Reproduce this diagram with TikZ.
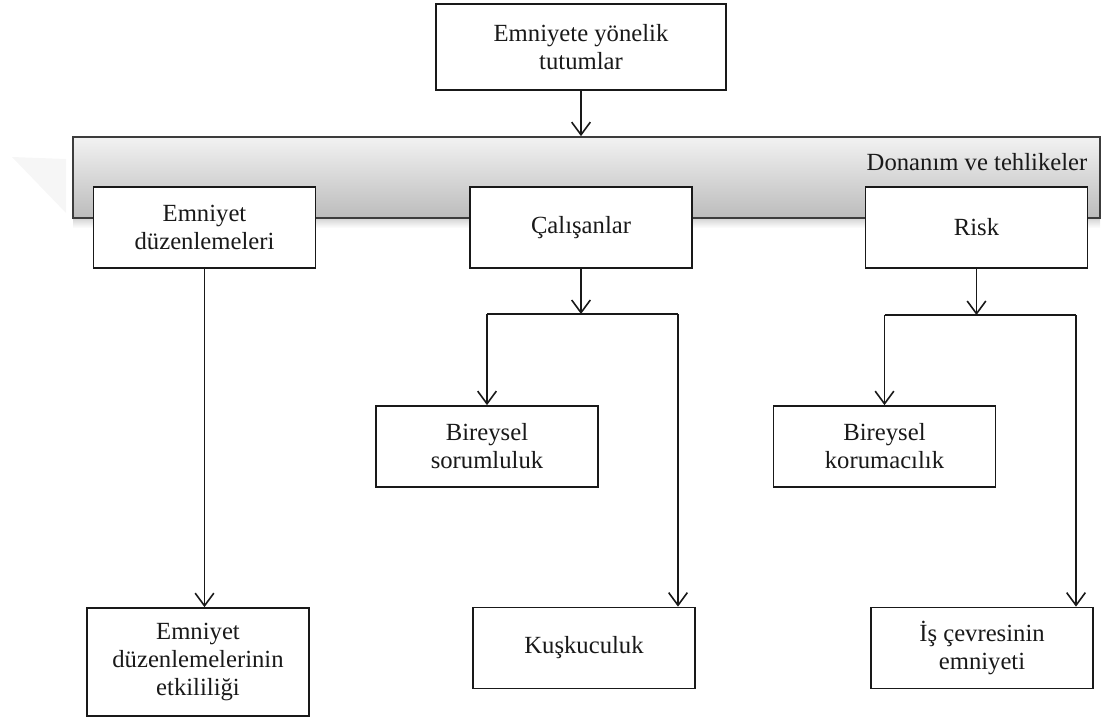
\documentclass[tikz,border=0pt]{standalone}
\usepackage{fontspec}
\setmainfont{Liberation Serif}
\usetikzlibrary{arrows.meta}

\definecolor{bandtop}{RGB}{242,242,242}
\definecolor{bandbot}{RGB}{188,188,188}
\definecolor{ink}{RGB}{25,25,25}

\tikzset{
  txt/.style={font=\fontsize{18.5}{21}\selectfont, align=center, text=ink},
  stepbox/.style={txt, draw=ink, line width=1.3pt, fill=white,
    rectangle, inner sep=0pt, minimum width=166.5pt, minimum height=60.75pt},
  bandbox/.style={draw=ink!85, line width=1.3pt, rectangle, inner sep=0pt,
    top color=bandtop, bottom color=bandbot,
    minimum width=770.25pt, minimum height=60.75pt},
  arr/.style={draw=ink, line width=1.3pt, -{Straight Barb[length=9.5pt,width=14pt,line width=1.2pt]}},
  link/.style={draw=ink, line width=1.3pt}
}

\begin{document}
\begin{tikzpicture}[x=0.75pt,y=-0.75pt]
  \useasboundingbox (0,0) rectangle (1103,719);

  % faint mark at the far left
  \fill[gray!7] (12,157) -- (66,159) -- (66,213) -- cycle;

  % top node
  \node[stepbox, minimum width=217.5pt, minimum height=64.5pt] (top) at (581,47)
    {Emniyete yönelik\\tutumlar};

  % wide shaded band with its soft shadow
  \shade[top color=gray!35, bottom color=white] (73,218) rectangle (1100,228);
  \node[bandbox] (band) at (586.5,177.5) {};
  \node[txt, anchor=east] (bandlabel) at (1092,162) {Donanım ve tehlikeler};

  % first row
  \node[stepbox] (emn)  at (204.5,227.5) {Emniyet\\düzenlemeleri};
  \node[stepbox] (cal)  at (581,227.5)   {Çalışanlar};
  \node[stepbox] (risk) at (976.5,227.5) {Risk};

  % second row
  \node[stepbox] (bs) at (487,446.5)   {Bireysel\\sorumluluk};
  \node[stepbox] (bk) at (884.5,446.5) {Bireysel\\korumacılık};

  % third row
  \node[stepbox, minimum height=81pt] (etk) at (198,662) {Emniyet\\düzenlemelerinin\\etkililiği};
  \node[stepbox] (kus) at (584,648) {Kuşkuculuk};
  \node[stepbox] (isc) at (982,648) {İş çevresinin\\emniyeti};

  % branch points
  \coordinate (cl) at (487,314);
  \coordinate (cm) at (581,314);
  \coordinate (cr) at (678,314);
  \coordinate (rl) at (884.5,315);
  \coordinate (rm) at (976.5,315);
  \coordinate (rr) at (1076,315);

  % connectors
  \draw[arr] (top.south) -- (top.south |- band.north);
  \draw[arr] (emn.south) -- (emn.south |- etk.north);

  \draw[arr] (cal.south) -- (cm);
  \draw[link] (cl) -- (cr);
  \draw[arr] (cl) -- (bs.north);
  \draw[arr] (cr) -- (cr |- kus.north);

  \draw[arr] (risk.south) -- (rm);
  \draw[link] (rl) -- (rr);
  \draw[arr] (rl) -- (bk.north);
  \draw[arr] (rr) -- (rr |- isc.north);
\end{tikzpicture}
\end{document}
